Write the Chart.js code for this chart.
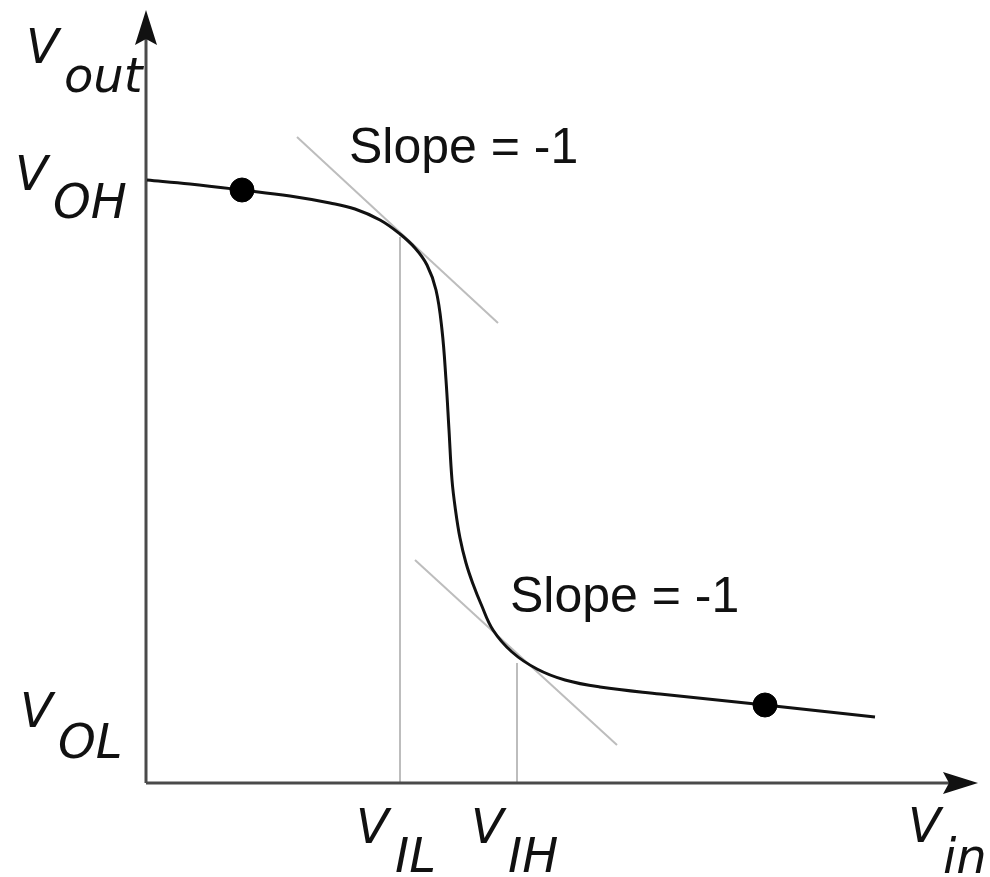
<!DOCTYPE html>
<html>
<head>
<meta charset="utf-8">
<script src="https://cdn.jsdelivr.net/npm/chart.js@4"></script>
<style>
  body { margin: 0; background: #fff; }
  canvas { display: block; }
</style>
</head>
<body>
<canvas id="vtc" width="990" height="877"></canvas>
<script>
// transfer curve (x = Vin, y = Vout, arbitrary units)
const curveX = [1, 44, 96, 144, 184, 209, 234, 254, 269, 281, 290, 296, 300, 303, 306, 309.5, 314, 320, 327, 335, 347, 366, 391, 419, 454, 514, 619, 729];
const curveY = [603, 599, 593, 587, 580, 574, 563, 549, 535, 518, 493, 453, 403, 353, 303, 273, 245, 220, 199, 179, 153, 131, 114, 103, 96, 89, 78, 66];

// operating points (dots)
const dotX = [96, 619];
const dotY = [593, 78];

// slope = -1 tangents
const tangentHighX = [151, 352];
const tangentHighY = [646, 460];
const tangentLowX = [269, 471];
const tangentLowY = [223, 38];

// VIL / VIH
const thresholdX = [254, 371];
const thresholdY = [546, 120];

// axes
const axisEnd = [805, 745];
const arrowPos = [814.5, 755.5];

const subLabels = ['out', 'OH', 'OL', 'IL', 'IH', 'in'];
const slopeText = 'Slope = -1';

function pts(xs, ys) {
  return xs.map((x, i) => ({ x: x, y: ys[i] }));
}

// arrow head used as point style
function makeArrow() {
  const c = document.createElement('canvas');
  c.width = 22;
  c.height = 35;
  const g = c.getContext('2d');
  g.fillStyle = '#111';
  g.beginPath();
  g.moveTo(11, 0);
  g.lineTo(22, 35);
  g.lineTo(11, 29);
  g.lineTo(0, 35);
  g.closePath();
  g.fill();
  return c;
}
const arrow = makeArrow();

const labelPlugin = {
  id: 'labels',
  afterDatasetsDraw(chart) {
    const ctx = chart.ctx;
    ctx.save();
    ctx.fillStyle = '#111';
    ctx.textAlign = 'left';
    ctx.textBaseline = 'alphabetic';
    const vPos = [[26, 63], [15, 190], [20, 727], [356, 843], [471, 843], [908, 842]];
    const subPos = [[64, 92], [53, 218], [58, 758], [395, 872], [508, 872], [943, 873]];
    ctx.font = 'italic 48px "DejaVu Sans"';
    subLabels.forEach((s, i) => {
      ctx.fillText('V', vPos[i][0], vPos[i][1]);
      ctx.fillText(s, subPos[i][0], subPos[i][1]);
    });
    ctx.font = '50px "Liberation Sans"';
    ctx.fillText(slopeText, 349, 163);
    ctx.fillText(slopeText, 510, 612);
    ctx.restore();
  }
};

const grayLine = { showLine: true, borderColor: '#bdbdbd', borderWidth: 2, pointRadius: 0, order: 5 };

new Chart(document.getElementById('vtc'), {
  type: 'scatter',
  data: {
    datasets: [
      Object.assign({ data: pts(tangentHighX, tangentHighY) }, grayLine),
      Object.assign({ data: pts(tangentLowX, tangentLowY) }, grayLine),
      Object.assign({ data: [{ x: thresholdX[0], y: thresholdY[0] }, { x: thresholdX[0], y: 0 }] }, grayLine),
      Object.assign({ data: [{ x: thresholdX[1], y: thresholdY[1] }, { x: thresholdX[1], y: 0 }] }, grayLine),
      {
        data: [{ x: 0, y: 0 }, { x: axisEnd[0], y: 0 }],
        showLine: true, borderColor: '#4a4a4a', borderWidth: 3, pointRadius: 0, order: 3
      },
      {
        data: [{ x: 0, y: 0 }, { x: 0, y: axisEnd[1] }],
        showLine: true, borderColor: '#4a4a4a', borderWidth: 3, pointRadius: 0, order: 3
      },
      {
        data: [{ x: 0, y: arrowPos[1] }, { x: arrowPos[0], y: 0 }],
        pointStyle: arrow, rotation: [0, 90], pointRadius: 18, order: 2
      },
      {
        data: pts(curveX, curveY),
        showLine: true, borderColor: '#111', borderWidth: 3, pointRadius: 0,
        tension: 0.4, order: 1
      },
      {
        data: pts(dotX, dotY),
        backgroundColor: '#000', borderColor: '#000', pointRadius: 12, order: 0
      }
    ]
  },
  options: {
    responsive: false,
    animation: false,
    layout: { autoPadding: false, padding: { left: 146, right: 14, top: 13, bottom: 94 } },
    scales: {
      x: { type: 'linear', min: 0, max: 830, display: false },
      y: { type: 'linear', min: 0, max: 770, display: false }
    },
    datasets: { scatter: { clip: false } },
    plugins: { legend: { display: false }, tooltip: { enabled: false } }
  },
  plugins: [labelPlugin]
});
</script>
</body>
</html>
